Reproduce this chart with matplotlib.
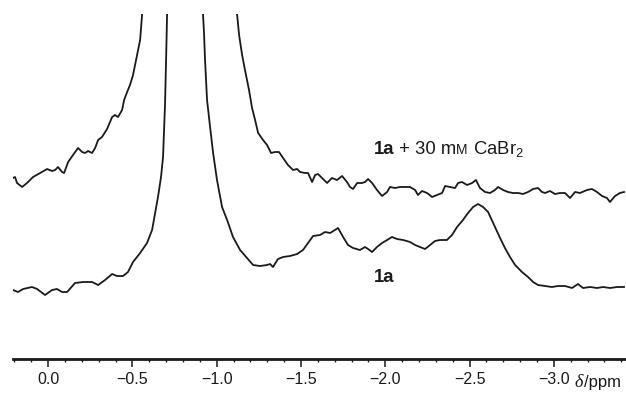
import numpy as np
import matplotlib
matplotlib.use("Agg")
import matplotlib.pyplot as plt
from matplotlib.ticker import MultipleLocator, FuncFormatter
from matplotlib.offsetbox import TextArea, HPacker, AnnotationBbox

plt.rcParams['font.family'] = ['Liberation Sans', 'DejaVu Sans']
plt.rcParams['mathtext.fontset'] = 'custom'
plt.rcParams['mathtext.rm'] = 'Liberation Sans'
plt.rcParams['mathtext.it'] = 'Liberation Sans:italic'
plt.rcParams['mathtext.bf'] = 'Liberation Sans:bold'

# 1a + 30 mM CaBr2 (upper trace), chemical shift in ppm, intensity in arb. units
shift_ca_left = [0.208, 0.196, 0.184, 0.154, 0.125, 0.089, 0.047, 0.006, -0.024, -0.042,
                 -0.059, -0.083, -0.095, -0.119, -0.148, -0.178, -0.202, -0.219, -0.237, -0.261,
                 -0.279, -0.297, -0.320, -0.350, -0.380, -0.397, -0.415, -0.439, -0.451, -0.469,
                 -0.486, -0.504, -0.528, -0.546, -0.558]
int_ca_left = [181, 182, 176, 172, 176, 182, 186, 190, 188, 189,
               192, 187, 186, 197, 204, 211, 207, 206, 208, 206,
               211, 219, 222, 230, 242, 244, 242, 249, 259, 267,
               274, 284, 304, 319, 345]
shift_ca_right = [-1.121, -1.133, -1.151, -1.168, -1.192, -1.210, -1.228, -1.246, -1.275, -1.299,
                  -1.323, -1.346, -1.370, -1.394, -1.423, -1.453, -1.477, -1.495, -1.524, -1.542,
                  -1.566, -1.584, -1.601, -1.625, -1.655, -1.684, -1.714, -1.744, -1.773, -1.791,
                  -1.809, -1.833, -1.862, -1.880, -1.898, -1.922, -1.951, -1.981, -2.011, -2.028,
                  -2.058, -2.088, -2.147, -2.177, -2.194, -2.218, -2.248, -2.278, -2.307, -2.337,
                  -2.355, -2.384, -2.414, -2.432, -2.455, -2.485, -2.515, -2.538, -2.562, -2.592,
                  -2.621, -2.651, -2.669, -2.699, -2.728, -2.758, -2.788, -2.817, -2.847, -2.877,
                  -2.906, -2.930, -2.948, -2.977, -3.007, -3.037, -3.066, -3.096, -3.126, -3.155,
                  -3.197, -3.226, -3.256, -3.286, -3.315, -3.333, -3.363, -3.392, -3.416]
int_ca_right = [345, 324, 304, 289, 269, 251, 239, 226, 219, 214,
                206, 207, 207, 201, 194, 189, 190, 187, 186, 186,
                177, 184, 185, 181, 176, 181, 179, 183, 177, 172,
                170, 176, 176, 177, 180, 176, 169, 163, 167, 172,
                171, 172, 172, 169, 164, 168, 166, 162, 164, 166,
                173, 172, 171, 176, 177, 174, 176, 179, 171, 167,
                166, 169, 172, 169, 167, 166, 166, 165, 167, 170,
                171, 167, 166, 168, 165, 166, 166, 161, 167, 166,
                169, 170, 167, 163, 161, 157, 163, 166, 167]

# 1a alone (lower trace)
shift_1a_left = [0.208, 0.178, 0.148, 0.095, 0.065, 0.018, -0.024, -0.053, -0.083, -0.113,
                 -0.160, -0.208, -0.261, -0.297, -0.338, -0.380, -0.409, -0.445, -0.474, -0.504,
                 -0.546, -0.587, -0.617, -0.635, -0.652, -0.670, -0.682, -0.688, -0.694, -0.700,
                 -0.706]
int_1a_left = [69, 67, 70, 72, 70, 64, 69, 70, 67, 67,
               76, 77, 77, 74, 79, 85, 83, 83, 87, 97,
               106, 116, 129, 146, 162, 182, 202, 229, 256, 299,
               345]
shift_1a_right = [-0.919, -0.925, -0.931, -0.943, -0.961, -0.979, -1.002, -1.032, -1.062, -1.097,
                  -1.139, -1.180, -1.216, -1.257, -1.299, -1.317, -1.334, -1.364, -1.394, -1.435,
                  -1.477, -1.512, -1.542, -1.572, -1.613, -1.643, -1.673, -1.720, -1.750, -1.779,
                  -1.809, -1.850, -1.880, -1.898, -1.922, -1.951, -1.981, -2.011, -2.040, -2.070,
                  -2.106, -2.147, -2.177, -2.206, -2.236, -2.266, -2.295, -2.325, -2.366, -2.396,
                  -2.426, -2.461, -2.491, -2.521, -2.550, -2.580, -2.610, -2.651, -2.681, -2.710,
                  -2.740, -2.770, -2.811, -2.847, -2.877, -2.906, -2.948, -2.989, -3.025, -3.066,
                  -3.108, -3.143, -3.173, -3.215, -3.256, -3.292, -3.333, -3.375, -3.416]
int_1a_right = [345, 326, 299, 259, 232, 206, 179, 152, 139, 122,
                109, 101, 94, 93, 94, 95, 92, 100, 102, 103,
                105, 109, 116, 123, 124, 127, 126, 131, 122, 114,
                111, 109, 112, 110, 107, 112, 116, 119, 122, 120,
                119, 117, 114, 112, 110, 114, 118, 119, 119, 124,
                132, 139, 146, 152, 155, 152, 147, 132, 121, 111,
                102, 94, 87, 82, 77, 74, 73, 72, 73, 73,
                71, 75, 71, 72, 71, 72, 71, 72, 72]

major_ticks = [0.0, -0.5, -1.0, -1.5, -2.0, -2.5, -3.0]

fig = plt.figure(figsize=(6.26, 3.94), dpi=100)
ax = fig.add_axes([13 / 626, 35 / 394, 613 / 626, 345 / 394])

line_kw = dict(color='#1a1a1a', lw=1.3, solid_joinstyle='round')
ax.plot(shift_ca_left, int_ca_left, **line_kw)
ax.plot(shift_ca_right, int_ca_right, **line_kw)
ax.plot(shift_1a_left, int_1a_left, **line_kw)
ax.plot(shift_1a_right, int_1a_right, **line_kw)

ax.set_xlim(0.208, -3.428)
ax.set_ylim(0, 345)

for side in ['top', 'left', 'right']:
    ax.spines[side].set_visible(False)
ax.spines['bottom'].set_linewidth(2.0)
ax.spines['bottom'].set_color('#1a1a1a')
ax.set_yticks([])
ax.set_xticks(major_ticks)
ax.xaxis.set_major_formatter(FuncFormatter(lambda v, p: f'{v:.1f}'.replace('-', '\u2212')))
ax.xaxis.set_minor_locator(MultipleLocator(0.1))
ax.tick_params(axis='x', which='major', direction='out', length=5.5, width=1.1,
               labelsize=11.5, pad=4, colors='#1a1a1a')
ax.tick_params(axis='x', which='minor', direction='out', length=2.5, width=1.0,
               colors='#1a1a1a')


def packed_label(pieces, xy, coords):
    boxes = [TextArea(t, textprops=p) for t, p in pieces]
    pack = HPacker(children=boxes, align='baseline', pad=0, sep=0)
    ab = AnnotationBbox(pack, xy, xycoords=coords, frameon=False,
                        box_alignment=(0, 0.5), pad=0)
    ax.add_artist(ab)


fs = 13.3
base = dict(fontsize=fs, color='#1a1a1a')
packed_label([('1a', dict(base, fontweight='bold')),
              (' + 30 m', base),
              ('M', dict(base, fontsize=fs * 0.75)),
              (' CaBr$_2$', base)],
             (-1.93, 210), 'data')

packed_label([('1a', dict(base, fontweight='bold'))], (-1.93, 81), 'data')

ax.text(-3.12, -0.043, 'δ', transform=ax.get_xaxis_transform(), fontsize=13,
        family='Liberation Serif', style='italic', ha='left', va='top', color='#1a1a1a')
ax.text(-3.178, -0.046, '/ppm', transform=ax.get_xaxis_transform(), fontsize=12,
        ha='left', va='top', color='#1a1a1a')

plt.savefig('out.png', dpi=100)
